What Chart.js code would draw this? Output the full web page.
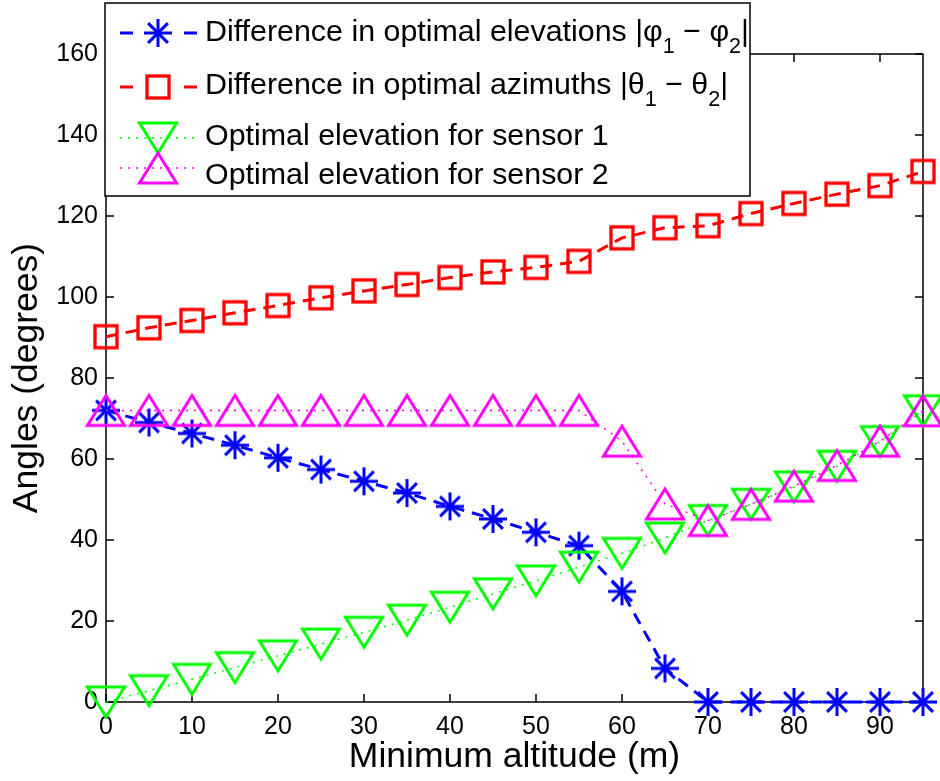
<!DOCTYPE html>
<html>
<head>
<meta charset="utf-8">
<script src="https://cdn.jsdelivr.net/npm/chart.js@4.4.0/dist/chart.umd.min.js"></script>
<style>
  html, body { margin: 0; padding: 0; background: #fff; }
  #wrap { width: 940px; height: 781px; }
</style>
</head>
<body>
<div id="wrap"><canvas id="angles" width="940" height="781"></canvas></div>
<script>
'use strict';

// data
const altitudes   = [0, 5, 10, 15, 20, 25, 30, 35, 40, 45, 50, 55, 60, 65, 70, 75, 80, 85, 90, 95];
const elevDiff    = [72, 69, 66.3, 63.4, 60.3, 57.4, 54.5, 51.6, 48.3, 45.2, 41.9, 38.6, 27.3, 8.3, 0, 0, 0, 0, 0, 0];
const azimDiff    = [90.2, 92.4, 94.2, 96.1, 97.9, 99.8, 101.5, 103.1, 104.8, 106.2, 107.3, 108.8, 114.6, 117.1, 117.6, 120.6, 123.1, 125.4, 127.5, 131];
const elevSensor1 = [0, 2.8, 5.6, 8.5, 11.4, 14.3, 17.2, 20.2, 23.4, 26.7, 29.9, 33.3, 36.7, 40.5, 44.8, 48.8, 53.1, 58.2, 64.3, 71.9];
const elevSensor2 = [72, 72, 72, 72, 72, 72, 72, 72, 72, 72, 72, 72, 64.4, 48.9, 44.8, 48.8, 53.3, 58.4, 64.4, 71.9];
const xTicks = [0, 10, 20, 30, 40, 50, 60, 70, 80, 90];
const yTicks = [0, 20, 40, 60, 80, 100, 120, 140, 160];

const FONT = '"Liberation Sans", Arial, Helvetica, sans-serif';
const BLUE = '#0000ff', RED = '#ff0000', GREEN = '#00ff00', MAGENTA = '#ff00ff';

// matlab-ish marker glyphs, drawn once into small canvases
function glyph(size, draw) {
  const c = document.createElement('canvas');
  c.width = c.height = size;
  const g = c.getContext('2d');
  draw(g, size / 2);
  return c;
}
const starMark = glyph(34, (g, m) => {
  g.strokeStyle = BLUE; g.lineWidth = 3;
  for (let k = 0; k < 4; k++) {
    const a = k * Math.PI / 4, dx = Math.cos(a) * 14, dy = Math.sin(a) * 14;
    g.beginPath(); g.moveTo(m - dx, m - dy); g.lineTo(m + dx, m + dy); g.stroke();
  }
});
const squareMark = glyph(30, (g, m) => {
  g.strokeStyle = RED; g.lineWidth = 3.3;
  g.strokeRect(m - 11, m - 11, 22, 22);
});
function triangle(color, up) {
  return glyph(46, (g, m) => {
    const hw = 18.5, hh = 15, s = up ? 1 : -1;
    g.strokeStyle = color; g.lineWidth = 3; g.lineJoin = 'miter';
    g.beginPath();
    g.moveTo(m, m - s * hh);
    g.lineTo(m + hw, m + s * hh);
    g.lineTo(m - hw, m + s * hh);
    g.closePath();
    g.stroke();
  });
}
const downMark = triangle(GREEN, false);
const upMark = triangle(MAGENTA, true);

const pts = ys => altitudes.map((x, i) => ({ x, y: ys[i] }));

// box + inward ticks like a matlab axes
const frame = {
  id: 'frame',
  beforeDatasetsDraw(chart) {
    const { ctx, chartArea: a, scales } = chart;
    const tl = 8;
    ctx.save();
    ctx.strokeStyle = '#000';
    ctx.lineWidth = 1.5;
    ctx.strokeRect(a.left, a.top, a.right - a.left, a.bottom - a.top);
    ctx.beginPath();
    xTicks.forEach(v => {
      const px = scales.x.getPixelForValue(v);
      ctx.moveTo(px, a.bottom); ctx.lineTo(px, a.bottom - tl);
      ctx.moveTo(px, a.top); ctx.lineTo(px, a.top + tl);
    });
    yTicks.forEach(v => {
      const py = scales.y.getPixelForValue(v);
      ctx.moveTo(a.left, py); ctx.lineTo(a.left + tl, py);
      ctx.moveTo(a.right, py); ctx.lineTo(a.right - tl, py);
    });
    ctx.stroke();
    ctx.restore();
  }
};

// legend box in the top-left corner; text pieces are [text, subscript]
const legendRows = [
  { mark: starMark, color: BLUE, dash: [13, 51], lw: 3, y: 33, base: 41,
    text: [['Difference in optimal elevations |\u03c6', 0], ['1', 1], [' \u2212 \u03c6', 0], ['2', 1], ['|', 0]] },
  { mark: squareMark, color: RED, dash: [13, 51], lw: 3, y: 87, base: 94,
    text: [['Difference in optimal azimuths |\u03b8', 0], ['1', 1], [' \u2212 \u03b8', 0], ['2', 1], ['|', 0]] },
  { mark: downMark, color: GREEN, dash: [2, 6], lw: 1.5, y: 138, base: 145,
    text: [['Optimal elevation for sensor 1', 0]] },
  { mark: upMark, color: MAGENTA, dash: [2, 6], lw: 1.5, y: 168, base: 184,
    text: [['Optimal elevation for sensor 2', 0]] }
];
const legendBox = {
  id: 'legendBox',
  afterDraw(chart) {
    const ctx = chart.ctx;
    ctx.save();
    ctx.fillStyle = '#fff';
    ctx.fillRect(105, 3, 645, 193);
    ctx.strokeStyle = '#000';
    ctx.lineWidth = 1.5;
    ctx.strokeRect(105, 3, 645, 193);
    legendRows.forEach(r => {
      ctx.strokeStyle = r.color;
      ctx.lineWidth = r.lw;
      ctx.setLineDash(r.dash);
      ctx.beginPath(); ctx.moveTo(120, r.y); ctx.lineTo(197, r.y); ctx.stroke();
      ctx.setLineDash([]);
      ctx.drawImage(r.mark, 158 - r.mark.width / 2, r.y - r.mark.height / 2);
      let x = 205;
      ctx.fillStyle = '#000';
      ctx.textBaseline = 'alphabetic';
      r.text.forEach(([s, sub]) => {
        ctx.font = (sub ? 21.5 : 30.4) + 'px ' + FONT;
        ctx.fillText(s, x, r.base + (sub ? 12 : 0));
        x += ctx.measureText(s).width;
      });
    });
    ctx.restore();
  }
};

Chart.defaults.font.family = FONT;
Chart.defaults.color = '#000';

new Chart(document.getElementById('angles'), {
  type: 'line',
  data: {
    datasets: [
      { label: 'Difference in optimal elevations', data: pts(elevDiff), order: 3,
        borderColor: BLUE, borderWidth: 3, borderDash: [12, 8], pointStyle: starMark },
      { label: 'Difference in optimal azimuths', data: pts(azimDiff), order: 2,
        borderColor: RED, borderWidth: 3, borderDash: [12, 8], pointStyle: squareMark },
      { label: 'Optimal elevation for sensor 1', data: pts(elevSensor1), order: 1,
        borderColor: GREEN, borderWidth: 1.5, borderDash: [2, 6], pointStyle: downMark },
      { label: 'Optimal elevation for sensor 2', data: pts(elevSensor2), order: 0,
        borderColor: MAGENTA, borderWidth: 1.5, borderDash: [2, 6], pointStyle: upMark }
    ].map(d => Object.assign(d, { fill: false, tension: 0, clip: false, pointRadius: 14,
      backgroundColor: 'transparent' }))
  },
  options: {
    responsive: false,
    animation: false,
    devicePixelRatio: 1,
    layout: { padding: { top: 54, right: 13, left: 0, bottom: 0 } },
    plugins: { legend: { display: false }, tooltip: { enabled: false } },
    scales: {
      x: {
        type: 'linear', min: 0, max: 95,
        grid: { display: false, drawTicks: false }, border: { display: false },
        afterBuildTicks: s => { s.ticks = xTicks.map(v => ({ value: v })); },
        afterFit: s => { s.height = 79; },
        ticks: { font: { size: 25 }, padding: 10, autoSkip: false, maxRotation: 0 },
        title: { display: true, text: 'Minimum altitude (m)', font: { size: 35.5 }, padding: { top: 0, bottom: 2 } }
      },
      y: {
        min: 0, max: 160,
        grid: { display: false, drawTicks: false }, border: { display: false },
        afterBuildTicks: s => { s.ticks = yTicks.map(v => ({ value: v })); },
        afterFit: s => { s.width = 106; },
        ticks: { font: { size: 25 }, padding: 8, autoSkip: false },
        title: { display: true, text: 'Angles (degrees)', font: { size: 35.5 }, padding: { top: 6, bottom: 0 } }
      }
    }
  },
  plugins: [frame, legendBox]
});
</script>
</body>
</html>
